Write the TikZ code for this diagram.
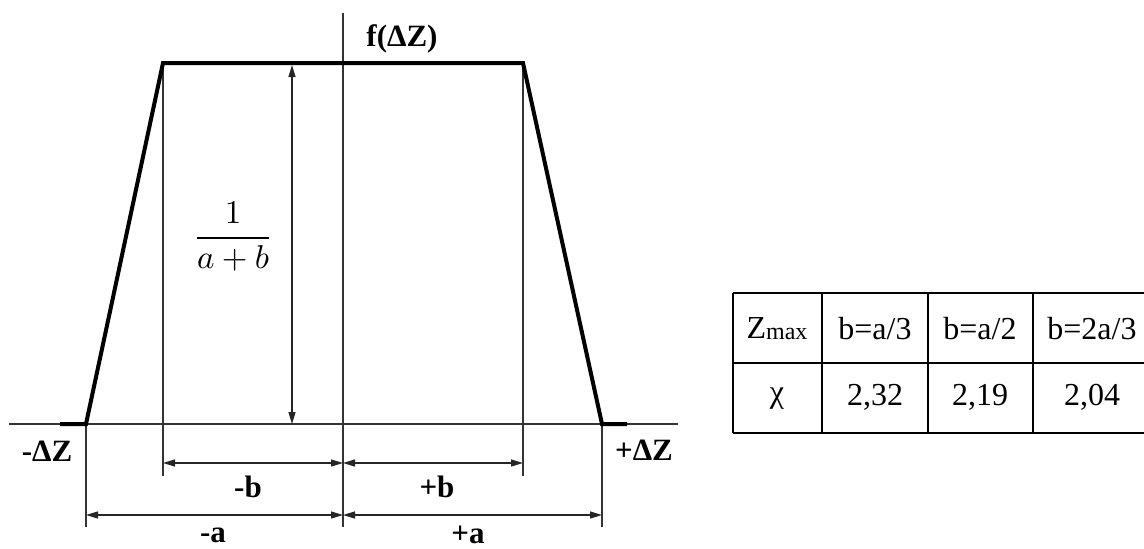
\documentclass[tikz,border=0pt]{standalone}
\usepackage{fontspec}
\setmainfont{Liberation Serif}
\usetikzlibrary{arrows.meta}
\tikzset{
  thin line/.style={line width=1.2pt, black!80},
  graph line/.style={line width=4pt, line join=miter},
  dim/.style={line width=1.2pt, black!85, {Triangle[length=12pt,width=7pt]}-{Triangle[length=12pt,width=7pt]}},
  lbl/.style={font=\fontsize{31}{36}\selectfont\bfseries, inner sep=0pt},
  cell/.style={font=\fontsize{32}{38}\selectfont, inner sep=0pt},
  tab line/.style={line width=2.6pt}
}
\begin{document}
\begin{tikzpicture}[x=1pt,y=-1pt]
\useasboundingbox (0,0) rectangle (1144,549);
% key points
\coordinate (ax0) at (9,424);
\coordinate (ax1) at (678,424);
\coordinate (vt) at (343,13);
\coordinate (vb) at (343,527);
\coordinate (sl) at (60,424);
\coordinate (bl) at (86,424);
\coordinate (tl) at (163,63);
\coordinate (tr) at (523,63);
\coordinate (br) at (602,424);
\coordinate (sr) at (627,424);
\coordinate (hb) at (292,424);
\coordinate (ht) at (292,65);
% axes
\draw[thin line] (ax0) -- (ax1);
\draw[thin line] (vt) -- (vb);
% extension lines
\draw[thin line] (tl) -- (163,476) coordinate (tlb);
\draw[thin line] (tr) -- (523,476) coordinate (trb);
\draw[thin line] (bl) -- (86,527) coordinate (blb);
\draw[thin line] (br) -- (602,527) coordinate (brb);
% graph
\draw[graph line] (sl) -- (bl) -- (tl) -- (tr) -- (br) -- (sr);
% height dimension
\draw[dim] (hb) -- (ht);
% horizontal dimensions
\coordinate (bL) at (163,463);
\coordinate (bM) at (343,463);
\coordinate (bR) at (523,463);
\coordinate (aL) at (86,515);
\coordinate (aM) at (343,515);
\coordinate (aR) at (602,515);
\draw[dim] (bL) -- (bM);
\draw[dim] (bM) -- (bR);
\draw[dim] (aL) -- (aM);
\draw[dim] (aM) -- (aR);
% labels
\node[lbl] (mdz) at (47,451) {-ΔZ};
\node[lbl] (pdz) at (644,450) {+ΔZ};
\node[lbl] (mb) at (248,487) {-b};
\node[lbl] (pb) at (437,487) {+b};
\node[lbl] (ma) at (213,535) {-a};
\node[lbl] (pa) at (468,535) {+a};
\node[lbl] (f) at (402,39) {f(ΔZ)};
\node[inner sep=0pt] (frac) at (233,237) {\scalebox{3.3}{$\displaystyle\frac{1}{a+b}$}};
% table
\draw[tab line] (733,293) -- (1144,293);
\draw[tab line] (733,363) -- (1144,363);
\draw[tab line] (733,433) -- (1144,433);
\draw[tab line] (733,293) -- (733,433);
\draw[tab line] (822,293) -- (822,433);
\draw[tab line] (928,293) -- (928,433);
\draw[tab line] (1033,293) -- (1033,433);
\node[cell] (c11) at (777,329) {Z\raisebox{-1pt}{\fontsize{24}{28}\selectfont max}};
\node[cell] (c12) at (875,329) {b=a/3};
\node[cell] (c13) at (980,329) {b=a/2};
\node[cell] (c14) at (1092,329) {b=2a/3};
\node[cell] (c21) at (777,399) {χ};
\node[cell] (c22) at (875,397) {2,32};
\node[cell] (c23) at (980,397) {2,19};
\node[cell] (c24) at (1092,397) {2,04};
\end{tikzpicture}
\end{document}
